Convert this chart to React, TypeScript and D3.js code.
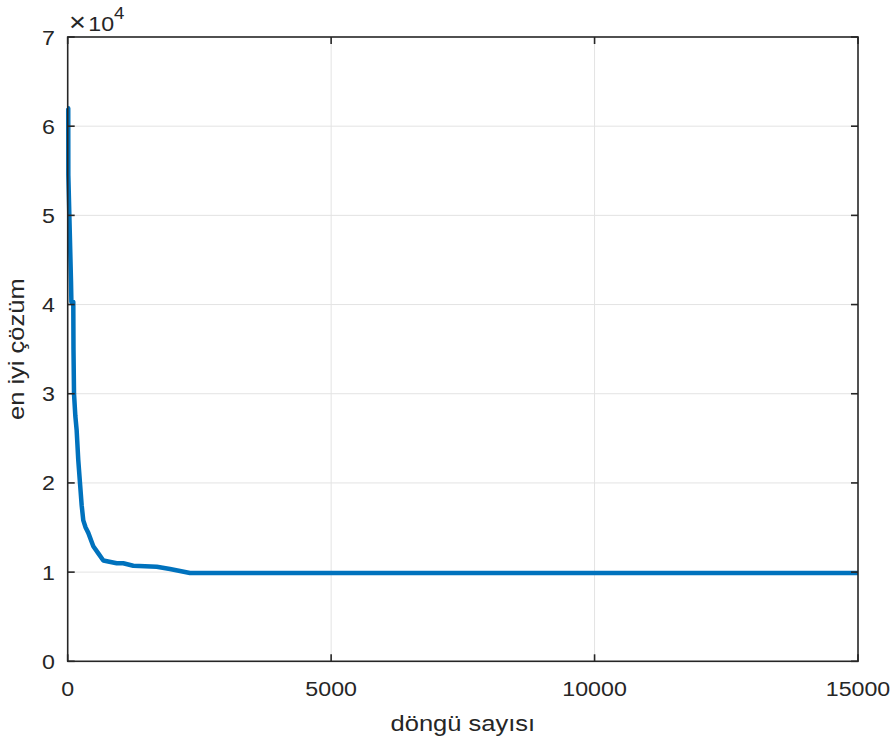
import React, { useRef, useEffect } from "react";
import * as d3 from "d3";

// iteration number vs. best solution found so far
const iterations = [
  0, 10, 12, 44, 63, 70, 106, 110, 120, 145, 170, 200, 233, 265, 296, 340, 391,
  486, 581, 676, 930, 1055, 1245, 1690, 1941, 2321, 15000,
];
const bestValues = [
  62000, 62000, 54500, 47000, 42500, 40300, 40300, 35000, 30000, 27500, 25900,
  22600, 20000, 17500, 15800, 15000, 14400, 12900, 12100, 11300, 11000, 10990,
  10720, 10600, 10350, 9900, 9900,
];

const xTicks = [0, 5000, 10000, 15000];
const yTicks = [0, 10000, 20000, 30000, 40000, 50000, 60000, 70000];
const xLabel = "döngü sayısı";
const yLabel = "en iyi çözüm";

const FONT = '"Liberation Sans", Arial, Helvetica, sans-serif';
const SX = 1.16; // glyphs in the reference run a bit wider than Arial

const App = () => {
  const svgRef = useRef<SVGSVGElement>(null);

  useEffect(() => {
    document.body.style.margin = "0";
    const svg = d3.select(svgRef.current);
    svg.selectAll("*").remove();

    const W = 896;
    const H = 742;
    const left = 67.7;
    const right = 858;
    const top = 37;
    const bottom = 661.3;

    const x = d3.scaleLinear().domain([0, 15000]).range([left, right]);
    const y = d3.scaleLinear().domain([0, 70000]).range([bottom, top]);

    svg.append("rect").attr("width", W).attr("height", H).attr("fill", "#fff");

    const txt = (
      px: number,
      py: number,
      s: string,
      size: number,
      anchor: string,
      rot = 0
    ) => {
      const g = svg
        .append("g")
        .attr("transform", `translate(${px},${py}) rotate(${rot}) scale(${SX},1)`);
      return g
        .append("text")
        .attr("font-family", FONT)
        .attr("font-size", size)
        .attr("fill", "#262626")
        .attr("text-anchor", anchor)
        .text(s);
    };

    // grid
    const grid = svg.append("g").attr("stroke", "#e3e3e3").attr("stroke-width", 1);
    xTicks.slice(1, -1).forEach((t) => {
      grid
        .append("line")
        .attr("x1", x(t))
        .attr("x2", x(t))
        .attr("y1", top)
        .attr("y2", bottom);
    });
    yTicks.slice(1, -1).forEach((t) => {
      grid
        .append("line")
        .attr("x1", left)
        .attr("x2", right)
        .attr("y1", y(t))
        .attr("y2", y(t));
    });

    // the line
    const line = d3
      .line<number>()
      .x((d, i) => x(iterations[i]))
      .y((d) => y(d));
    svg
      .append("path")
      .datum(bestValues)
      .attr("d", line)
      .attr("fill", "none")
      .attr("stroke", "#0072BD")
      .attr("stroke-width", 4.5)
      .attr("stroke-linejoin", "round");

    // box and ticks
    const ax = svg.append("g").attr("stroke", "#262626").attr("fill", "none");
    ax.append("rect")
      .attr("x", left)
      .attr("y", top)
      .attr("width", right - left)
      .attr("height", bottom - top)
      .attr("stroke-width", 1.6);
    const tl = 7;
    xTicks.forEach((t) => {
      ax.append("line").attr("x1", x(t)).attr("x2", x(t)).attr("y1", bottom).attr("y2", bottom - tl).attr("stroke-width", 1.6);
      ax.append("line").attr("x1", x(t)).attr("x2", x(t)).attr("y1", top).attr("y2", top + tl).attr("stroke-width", 1.6);
    });
    yTicks.forEach((t) => {
      ax.append("line").attr("x1", left).attr("x2", left + tl).attr("y1", y(t)).attr("y2", y(t)).attr("stroke-width", 1.6);
      ax.append("line").attr("x1", right).attr("x2", right - tl).attr("y1", y(t)).attr("y2", y(t)).attr("stroke-width", 1.6);
    });

    // tick labels
    xTicks.forEach((t) => txt(x(t), 696, String(t), 20, "middle"));
    yTicks.forEach((t) => txt(55, y(t) + 7.5, String(t / 10000), 20, "end"));

    // exponent
    const ex = txt(69, 31, "", 20, "start");
    ex.append("tspan").attr("font-size", 25).text("×");
    ex.append("tspan").attr("dx", 2).text("10");
    ex.append("tspan").attr("dy", -12).attr("font-size", 16).text("4");

    // axis labels
    txt((left + right) / 2, 731, xLabel, 22, "middle");
    txt(23.5, (top + bottom) / 2, yLabel, 22, "middle", -90);
  }, []);

  return (
    <div>
      <svg ref={svgRef} width={896} height={742} style={{ display: "block" }} />
    </div>
  );
};

export default App;
